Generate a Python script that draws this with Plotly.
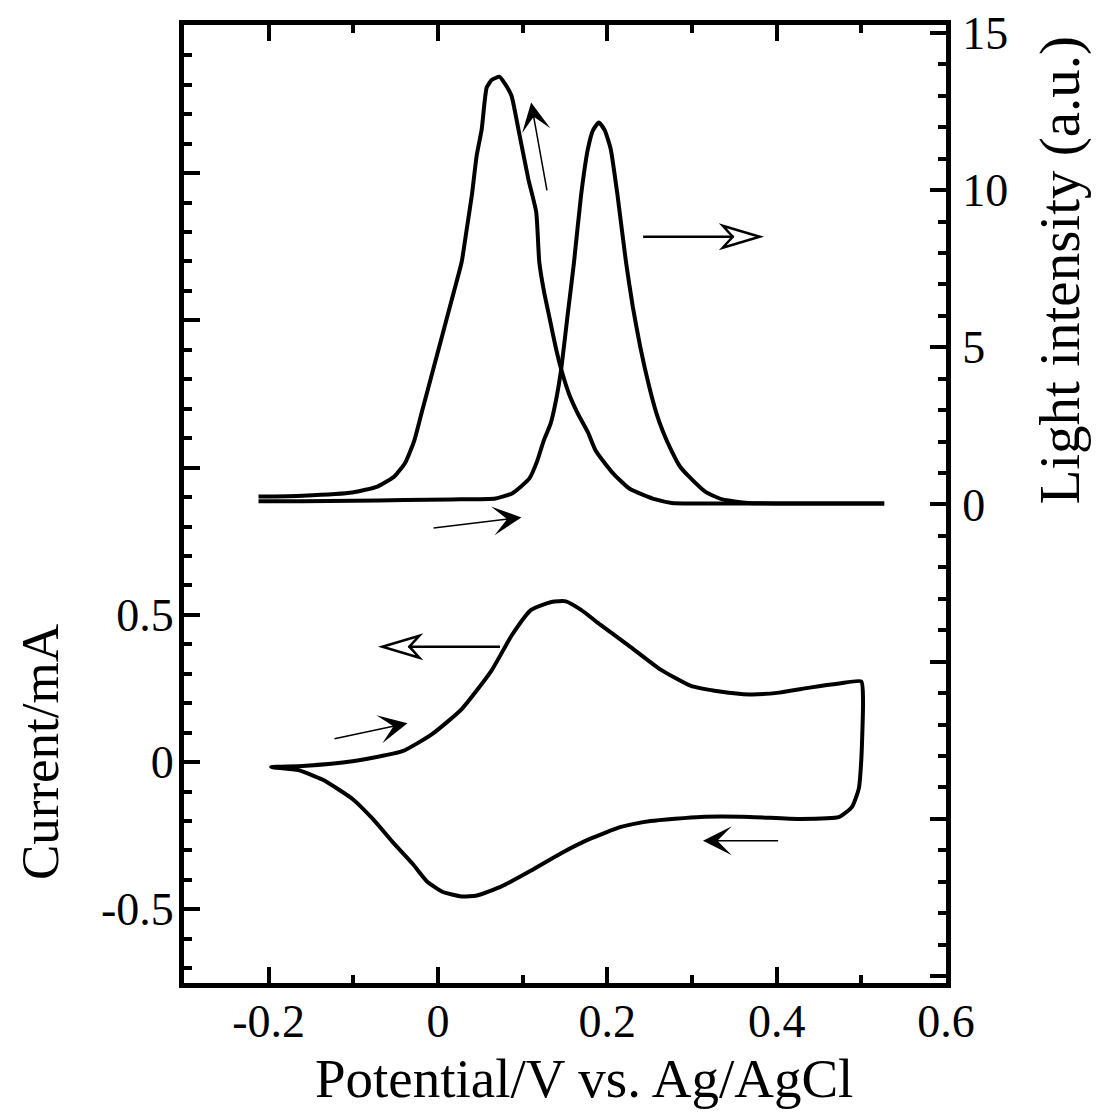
import plotly.graph_objects as go

# ---------------- data ----------------
# Light intensity, forward scan (right axis)
light_fwd_x = [-0.212, -0.16, -0.10, -0.04, 0.016, 0.068, 0.088, 0.108, 0.117, 0.125,
               0.133, 0.140, 0.1455, 0.153, 0.1607, 0.169, 0.177, 0.183, 0.190, 0.197,
               0.204, 0.212, 0.222, 0.230, 0.239, 0.249, 0.258, 0.266, 0.276, 0.286,
               0.296, 0.316, 0.336, 0.366, 0.45, 0.527]
light_fwd_y = [0.10, 0.10, 0.12, 0.14, 0.16, 0.19, 0.36, 0.83, 1.37, 2.04,
               2.57, 3.4, 4.3, 6.0, 7.72, 9.84, 11.3, 11.9, 12.15, 11.9,
               11.3, 9.84, 7.72, 6.3, 5.0, 3.8, 2.9, 2.3, 1.7, 1.2,
               0.9, 0.4, 0.16, 0.05, 0.03, 0.03]

# Light intensity, reverse scan (right axis)
light_rev_x = [0.527, 0.40, 0.30, 0.276, 0.257, 0.2264, 0.2065, 0.1865, 0.177, 0.165,
               0.155, 0.1455, 0.139, 0.132, 0.125, 0.1196, 0.116, 0.1067, 0.095, 0.0868,
               0.0786, 0.0727, 0.0633, 0.0575, 0.055, 0.0516, 0.0457, 0.040, 0.034, 0.028,
               0.0188, 0.0094, 0.0, -0.0094, -0.0188, -0.028, -0.0387, -0.0516, -0.0716,
               -0.101, -0.16, -0.212]
light_rev_y = [0.03, 0.03, 0.03, 0.05, 0.16, 0.5, 1.0, 1.7, 2.3, 2.9,
               3.5, 4.3, 5.0, 5.9, 6.8, 7.72, 9.3, 10.35, 11.93, 13.0,
               13.4, 13.6, 13.5, 13.26, 12.8, 11.93, 11.1, 9.84, 8.77, 7.72,
               6.77, 5.82, 4.87, 3.92, 2.97, 2.03, 1.33, 0.89, 0.57,
               0.38, 0.28, 0.25]

# Cyclic voltammogram (left axis)
cv_potential = [-0.197, -0.16, -0.101, -0.042, -0.007, 0.028, 0.063, 0.087, 0.11, 0.134,
                0.151, 0.169, 0.192, 0.228, 0.263, 0.298, 0.333, 0.368, 0.403, 0.439,
                0.474, 0.500, 0.502, 0.500, 0.497, 0.489, 0.474, 0.427, 0.368, 0.31,
                0.251, 0.216, 0.18, 0.145, 0.11, 0.075, 0.046, 0.028, 0.005, -0.013,
                -0.03, -0.054, -0.077, -0.101, -0.136, -0.165, -0.197]
cv_current = [-0.017, -0.013, 0.003, 0.037, 0.095, 0.18, 0.31, 0.43, 0.517, 0.544,
              0.546, 0.517, 0.466, 0.39, 0.314, 0.26, 0.24, 0.23, 0.236, 0.253,
              0.267, 0.274, 0.21, 0.01, -0.09, -0.152, -0.186, -0.193, -0.186, -0.186,
              -0.2, -0.22, -0.26, -0.31, -0.368, -0.422, -0.453, -0.456, -0.44, -0.405,
              -0.345, -0.27, -0.193, -0.125, -0.06, -0.027, -0.017]

x_ticks = [-0.2, 0, 0.2, 0.4, 0.6]
x_ticktext = ["-0.2", "0", "0.2", "0.4", "0.6"]
y_ticks = [-0.5, 0, 0.5, 1.0, 1.5, 2.0, 2.5]
y_ticktext = ["-0.5", "0", "0.5", "", "", "", ""]
y2_ticks = [-15, -10, -5, 0, 5, 10, 15]
y2_ticktext = ["", "", "", "0", "5", "10", "15"]

FONT = "Liberation Serif"
TICK_SIZE = 46

fig = go.Figure()
line_style = dict(color="black", width=4, shape="spline", smoothing=0.5)
fig.add_trace(go.Scatter(x=cv_potential, y=cv_current, mode="lines", line=line_style,
                         yaxis="y", showlegend=False))
fig.add_trace(go.Scatter(x=light_fwd_x, y=light_fwd_y, mode="lines", line=line_style,
                         yaxis="y2", showlegend=False))
fig.add_trace(go.Scatter(x=light_rev_x, y=light_rev_y, mode="lines", line=line_style,
                         yaxis="y2", showlegend=False))

axis_common = dict(showline=True, linecolor="black", linewidth=5, ticks="inside",
                   tickcolor="black", tickwidth=4, ticklen=16, showgrid=False,
                   zeroline=False, automargin=False,
                   tickfont=dict(family=FONT, size=TICK_SIZE, color="black"))

fig.update_layout(
    width=1096, height=1113,
    margin=dict(l=184, r=150, t=25, b=130),
    paper_bgcolor="white", plot_bgcolor="white",
    xaxis=dict(range=[-0.3, 0.6], tickmode="array", tickvals=x_ticks, ticktext=x_ticktext,
               mirror="ticks", ticklabelstandoff=-6,
               minor=dict(ticks="inside", ticklen=8, tickwidth=4, tickcolor="black",
                          tick0=-0.3, dtick=0.1),
               **axis_common),
    yaxis=dict(range=[-0.75, 2.503], tickmode="array", tickvals=y_ticks, ticktext=y_ticktext,
               ticklabelstandoff=-4,
               minor=dict(ticks="inside", ticklen=8, tickwidth=4, tickcolor="black",
                          tick0=0, dtick=0.1),
               **axis_common),
    yaxis2=dict(range=[-15.22, 15.25], overlaying="y", side="right", tickmode="array",
                tickvals=y2_ticks, ticktext=y2_ticktext, ticklabelstandoff=2,
                minor=dict(ticks="inside", ticklen=8, tickwidth=4, tickcolor="black",
                           tick0=0, dtick=1),
                **axis_common),
)

fig.add_annotation(text="Potential/V vs. Ag/AgCl", xref="paper", yref="paper",
                   x=0.525, y=-0.0992, xanchor="center", yanchor="middle",
                   showarrow=False, font=dict(family=FONT, size=55, color="black"))
fig.add_annotation(text="Current/mA", xref="paper", yref="paper",
                   x=-0.189, y=0.241, xanchor="center", yanchor="middle",
                   textangle=-90, showarrow=False,
                   font=dict(family=FONT, size=53, color="black"))
fig.add_annotation(text="Light intensity (a.u.)", xref="paper", yref="paper",
                   x=1.150, y=0.744, xanchor="center", yanchor="middle",
                   textangle=-90, showarrow=False,
                   font=dict(family=FONT, size=57, color="black"))

# thin arrows with filled heads (tip x,y ; tail ax,ay) in left-axis data coordinates
thin_arrows = [
    (0.110, 2.24, 0.129, 1.936),
    (0.0985, 0.831, -0.007, 0.794),
    (-0.036, 0.132, -0.124, 0.078),
    (0.313, -0.267, 0.4035, -0.267),
]
for x, y, ax, ay in thin_arrows:
    fig.add_annotation(x=x, y=y, ax=ax, ay=ay, xref="x", yref="y", axref="x", ayref="y",
                       text="", showarrow=True, arrowhead=3, arrowsize=3.2,
                       arrowwidth=1.5, arrowcolor="black")

# open-headed arrows: (tip x, tip y, tail x, direction)
open_arrows = [
    (0.380, 1.784, 0.2405, 1),
    (-0.0657, 0.392, 0.075, -1),
]
for tx, ty, sx, d in open_arrows:
    fig.add_annotation(x=tx, y=ty, ax=sx, ay=ty, xref="x", yref="y", axref="x", ayref="y",
                       text="", showarrow=True, arrowhead=0, arrowwidth=2.5,
                       arrowcolor="black", standoff=26)
    L, W, N = 37, 11, 27
    path = (f"M0,0 L{-d*L},{W} L{-d*N},0 L{-d*L},{-W} Z")
    fig.add_shape(type="path", xref="x", yref="y", xsizemode="pixel", ysizemode="pixel",
                  xanchor=tx, yanchor=ty, path=path, fillcolor="white",
                  line=dict(color="black", width=2.5), layer="above")

fig.write_html("out.html")
